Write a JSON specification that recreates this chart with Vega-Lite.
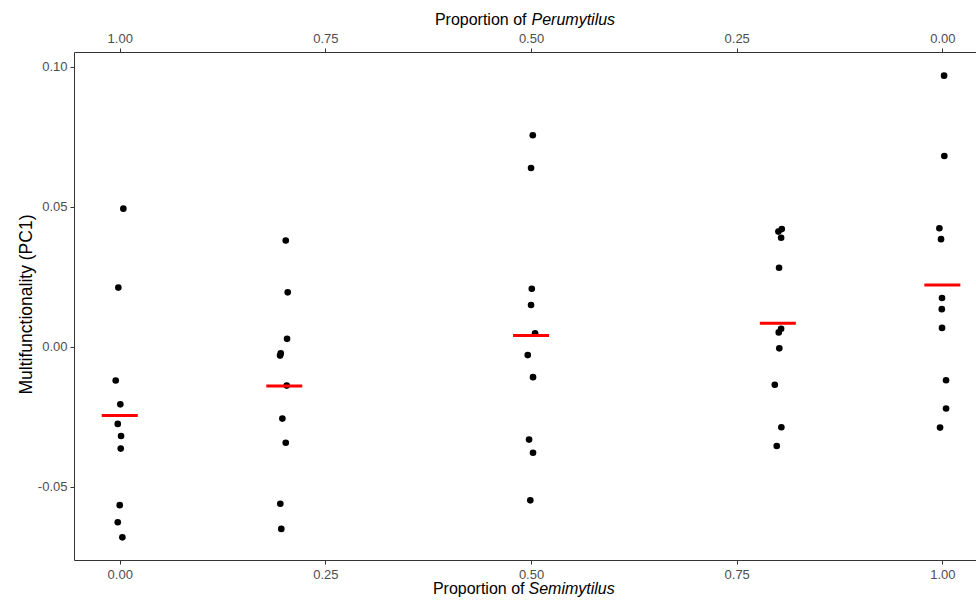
{
  "$schema": "https://vega.github.io/schema/vega-lite/v6.json",
  "width": 902,
  "height": 508,
  "autosize": {"type": "none"},
  "padding": {"left": 74, "top": 52, "right": 0, "bottom": 42},
  "background": "white",
  "config": {
    "view": {"stroke": null},
    "font": "Liberation Sans",
    "axis": {
      "grid": false,
      "labelFont": "Liberation Sans",
      "titleFont": "Liberation Sans",
      "labelFontSize": 13,
      "labelColor": "#4d4d4d",
      "titleColor": "#000000",
      "titleFontWeight": "normal",
      "titleFontSize": 16,
      "tickColor": "#333333",
      "domainColor": "#333333",
      "tickSize": 4,
      "tickWidth": 1,
      "domainWidth": 1,
      "labelFlush": false
    }
  },
  "data": {
    "values": [
      {"semi": 0, "x": 0.0044, "pc1": 0.0493},
      {"semi": 0, "x": -0.0017, "pc1": 0.0211},
      {"semi": 0, "x": -0.0049, "pc1": -0.0121},
      {"semi": 0, "x": 0.0007, "pc1": -0.0206},
      {"semi": 0, "x": -0.0024, "pc1": -0.0276},
      {"semi": 0, "x": 0.0016, "pc1": -0.0319},
      {"semi": 0, "x": 0.0012, "pc1": -0.0364},
      {"semi": 0, "x": 0.0, "pc1": -0.0566},
      {"semi": 0, "x": -0.0024, "pc1": -0.0627},
      {"semi": 0, "x": 0.0032, "pc1": -0.0681},
      {"semi": 0.2, "x": 0.2018, "pc1": 0.0379},
      {"semi": 0.2, "x": 0.2042, "pc1": 0.0194},
      {"semi": 0.2, "x": 0.2034, "pc1": 0.0028},
      {"semi": 0.2, "x": 0.1957, "pc1": -0.0024},
      {"semi": 0.2, "x": 0.1949, "pc1": -0.0032},
      {"semi": 0.2, "x": 0.2030, "pc1": -0.0139},
      {"semi": 0.2, "x": 0.1977, "pc1": -0.0257},
      {"semi": 0.2, "x": 0.2018, "pc1": -0.0343},
      {"semi": 0.2, "x": 0.1952, "pc1": -0.0561},
      {"semi": 0.2, "x": 0.1964, "pc1": -0.0651},
      {"semi": 0.5, "x": 0.5021, "pc1": 0.0755},
      {"semi": 0.5, "x": 0.5000, "pc1": 0.0638},
      {"semi": 0.5, "x": 0.5009, "pc1": 0.0207},
      {"semi": 0.5, "x": 0.5000, "pc1": 0.0149},
      {"semi": 0.5, "x": 0.5049, "pc1": 0.0048},
      {"semi": 0.5, "x": 0.4960, "pc1": -0.0030},
      {"semi": 0.5, "x": 0.5024, "pc1": -0.0109},
      {"semi": 0.5, "x": 0.4976, "pc1": -0.0332},
      {"semi": 0.5, "x": 0.5024, "pc1": -0.0379},
      {"semi": 0.5, "x": 0.4991, "pc1": -0.0549},
      {"semi": 0.8, "x": 0.8048, "pc1": 0.0420},
      {"semi": 0.8, "x": 0.8007, "pc1": 0.0411},
      {"semi": 0.8, "x": 0.8040, "pc1": 0.0389},
      {"semi": 0.8, "x": 0.8015, "pc1": 0.0282},
      {"semi": 0.8, "x": 0.8040, "pc1": 0.0064},
      {"semi": 0.8, "x": 0.8011, "pc1": 0.0051},
      {"semi": 0.8, "x": 0.8018, "pc1": -0.0006},
      {"semi": 0.8, "x": 0.7963, "pc1": -0.0136},
      {"semi": 0.8, "x": 0.8043, "pc1": -0.0288},
      {"semi": 0.8, "x": 0.7987, "pc1": -0.0355},
      {"semi": 1, "x": 1.0021, "pc1": 0.0968},
      {"semi": 1, "x": 1.0024, "pc1": 0.0681},
      {"semi": 1, "x": 0.9964, "pc1": 0.0423},
      {"semi": 1, "x": 0.9984, "pc1": 0.0384},
      {"semi": 1, "x": 0.9996, "pc1": 0.0174},
      {"semi": 1, "x": 0.9993, "pc1": 0.0134},
      {"semi": 1, "x": 0.9996, "pc1": 0.0067},
      {"semi": 1, "x": 1.0045, "pc1": -0.0120},
      {"semi": 1, "x": 1.0045, "pc1": -0.0221},
      {"semi": 1, "x": 0.9972, "pc1": -0.0289}
    ]
  },
  "layer": [
    {
      "mark": {"type": "circle", "size": 44, "color": "#000000", "opacity": 1},
      "encoding": {
        "x": {
          "field": "x",
          "type": "quantitative",
          "scale": {"domain": [-0.0556, 1.0409], "nice": false, "zero": false},
          "axis": {
            "orient": "bottom",
            "values": [0, 0.25, 0.5, 0.75, 1],
            "format": ".2f",
            "labelPadding": 4,
            "labelBound": false,
            "title": "Proportion of",
            "titleX": 450,
            "titleY": 33,
            "titleAlign": "right",
            "titleBaseline": "alphabetic"
          }
        },
        "y": {
          "field": "pc1",
          "type": "quantitative",
          "scale": {"domain": [-0.0762, 0.10525], "nice": false, "zero": false},
          "axis": {
            "orient": "left",
            "values": [-0.05, 0, 0.05, 0.1],
            "labelExpr": "datum.value < 0 ? '-' + format(-datum.value, '.2f') : format(datum.value, '.2f')",
            "labelPadding": 3,
            "title": "Multifunctionality (PC1)",
            "titleFontSize": 17.5,
            "titleAngle": 270,
            "titleX": -48,
            "titleY": 252,
            "titleAlign": "center",
            "titleBaseline": "middle"
          }
        }
      }
    },
    {
      "transform": [
        {"aggregate": [{"op": "mean", "field": "pc1", "as": "mean_pc1"}], "groupby": ["semi"]}
      ],
      "mark": {"type": "tick", "orient": "horizontal", "color": "#ff0000", "opacity": 1, "thickness": 3, "size": 36},
      "encoding": {
        "x": {
          "field": "semi",
          "type": "quantitative",
          "axis": {
            "orient": "top",
            "values": [0, 0.25, 0.5, 0.75, 1],
            "labelExpr": "format(1 - datum.value, '.2f')",
            "labelPadding": 3,
            "labelBound": false,
            "title": "Proportion of",
            "titleX": 452,
            "titleY": -28,
            "titleAlign": "right",
            "titleBaseline": "alphabetic"
          }
        },
        "y": {"field": "mean_pc1", "type": "quantitative", "axis": null}
      }
    },
    {
      "mark": {"type": "circle", "opacity": 0},
      "encoding": {
        "x": {
          "field": "x",
          "type": "quantitative",
          "axis": {
            "orient": "bottom",
            "values": [0.5],
            "labels": false,
            "ticks": false,
            "domain": false,
            "title": "Semimytilus",
            "titleFontStyle": "italic",
            "titleX": 454,
            "titleY": 33,
            "titleAlign": "left",
            "titleBaseline": "alphabetic"
          }
        },
        "y": {"field": "pc1", "type": "quantitative", "axis": null}
      }
    },
    {
      "mark": {"type": "circle", "opacity": 0},
      "encoding": {
        "x": {
          "field": "x",
          "type": "quantitative",
          "axis": {
            "orient": "top",
            "values": [0.5],
            "labels": false,
            "ticks": false,
            "domain": false,
            "title": "Perumytilus",
            "titleFontStyle": "italic",
            "titleX": 457,
            "titleY": -28,
            "titleAlign": "left",
            "titleBaseline": "alphabetic"
          }
        },
        "y": {"field": "pc1", "type": "quantitative", "axis": null}
      }
    }
  ],
  "resolve": {"axis": {"x": "independent", "y": "independent"}}
}
